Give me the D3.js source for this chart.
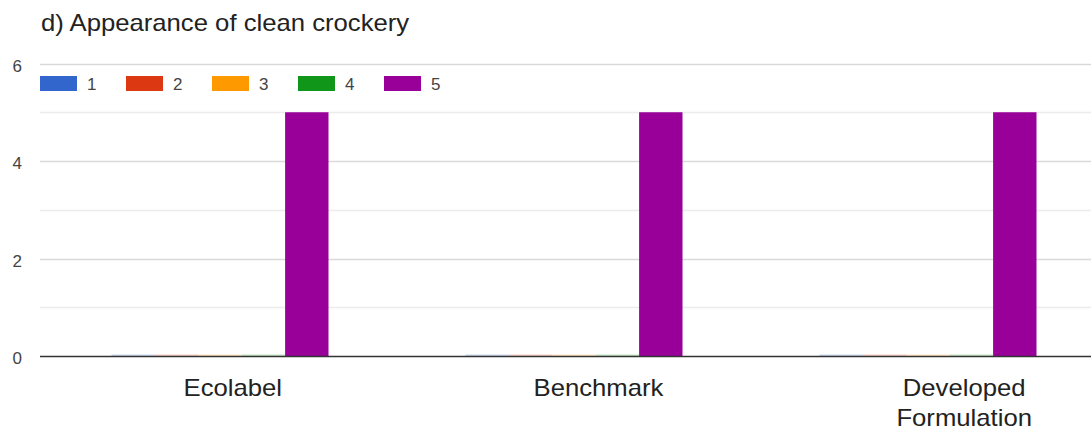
<!DOCTYPE html>
<html>
<head>
<meta charset="utf-8">
<script src="https://cdn.jsdelivr.net/npm/d3@7/dist/d3.min.js"></script>
<style>
  html, body { margin: 0; padding: 0; background: #fff; }
  svg { display: block; font-family: Arial, "Liberation Sans", sans-serif; }
</style>
</head>
<body>
<svg id="chart" width="1091" height="432"></svg>
<script>
// Ratings given to each product for the appearance of clean crockery
const categories = ["Ecolabel", "Benchmark", "Developed Formulation"];
const seriesNames = ["1", "2", "3", "4", "5"];
const rating1 = [0, 0, 0];
const rating2 = [0, 0, 0];
const rating3 = [0, 0, 0];
const rating4 = [0, 0, 0];
const rating5 = [5, 5, 5];
const seriesColors = ["#3366cc", "#dc3912", "#ff9900", "#109618", "#990099"];
const yTicks = [0, 2, 4, 6];
const yGrid = [1, 2, 3, 4, 5, 6];
const titleText = "d) Appearance of clean crockery";

const seriesValues = [rating1, rating2, rating3, rating4, rating5];
const rows = categories.map((c, i) => ({
  category: c,
  values: seriesNames.map((s, j) => ({ key: s, value: seriesValues[j][i], color: seriesColors[j] }))
}));

const plotLeft = 40, plotRight = 1091, plotTop = 63.5, plotBottom = 356;

const svg = d3.select("#chart");

const y = d3.scaleLinear().domain([0, 6]).range([plotBottom, plotTop]);

// Category bands run past the right edge of the view
const x0 = d3.scaleBand().domain(categories).range([43, 1105])
  .paddingInner(0.387).paddingOuter(0.1935);
const x1 = d3.scaleBand().domain(seriesNames).range([0, x0.bandwidth()]).padding(0);
// Tick labels are spread a little wider than the bar groups
const xLabel = d3.scaleBand().domain(categories).range([50, 1147]);

// Title
svg.append("text")
  .attr("transform", "translate(41,31) scale(1.07,1)")
  .attr("font-size", 24).attr("fill", "#222")
  .text(titleText);

// Gridlines
svg.append("g").selectAll("line").data(yGrid).join("line")
  .attr("x1", plotLeft).attr("x2", plotRight)
  .attr("y1", d => Math.round(y(d)) + 0.5).attr("y2", d => Math.round(y(d)) + 0.5)
  .attr("stroke", d => d % 2 === 0 ? "#d9d9d9" : "#ececec")
  .attr("stroke-width", 1.5);

// Y axis labels
svg.append("g").selectAll("text").data(yTicks).join("text")
  .attr("x", 22).attr("y", d => y(d) + 8)
  .attr("text-anchor", "end")
  .attr("font-size", 17).attr("fill", "#444")
  .text(d => d);

// Bars
const groups = svg.append("g").selectAll("g").data(rows).join("g")
  .attr("transform", d => `translate(${x0(d.category)},0)`);
groups.selectAll("rect").data(d => d.values).join("rect")
  .attr("x", d => x1(d.key))
  .attr("width", x1.bandwidth())
  .attr("y", d => y(d.value) - (d.value === 0 ? 1.5 : 0))
  .attr("height", d => d.value === 0 ? 1.5 : y(0) - y(d.value))
  .attr("fill", d => d.color)
  .attr("fill-opacity", d => d.value === 0 ? 0.25 : 1);

// Baseline
svg.append("line")
  .attr("x1", plotLeft).attr("x2", plotRight)
  .attr("y1", y(0) + 0.5).attr("y2", y(0) + 0.5)
  .attr("stroke", "#333").attr("stroke-width", 1.3);

// X axis labels (the long one wraps onto two lines)
const xAxis = d3.axisBottom(xLabel).tickSize(0).tickPadding(0);
const xg = svg.append("g").attr("transform", `translate(0,${plotBottom})`).call(xAxis);
xg.select(".domain").remove();
xg.selectAll(".tick text")
  .attr("font-size", 24).attr("fill", "#222")
  .attr("font-family", "Arial, 'Liberation Sans', sans-serif")
  .attr("transform", "scale(1.07,1)")
  .attr("dy", null).attr("y", 0)
  .each(function (d) {
    const t = d3.select(this);
    t.text(null);
    const lines = d === "Developed Formulation" ? ["Developed", "Formulation"] : [d];
    lines.forEach((ln, i) => {
      t.append("tspan").attr("x", 0).attr("y", 40 + i * 30).text(ln);
    });
  });

// Legend
const legend = svg.append("g").selectAll("g").data(seriesNames).join("g")
  .attr("transform", (d, i) => `translate(${40 + i * 86},0)`);
legend.append("rect")
  .attr("x", 0).attr("y", 76).attr("width", 37).attr("height", 15)
  .attr("fill", (d, i) => seriesColors[i]);
legend.append("text")
  .attr("x", 47).attr("y", 90)
  .attr("font-size", 17).attr("fill", "#444")
  .text(d => d);
</script>
</body>
</html>
